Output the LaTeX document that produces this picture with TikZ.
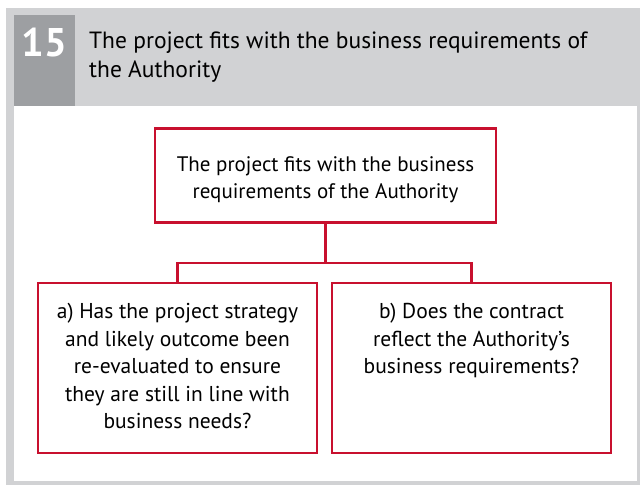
\documentclass[tikz,border=0pt]{standalone}
\usepackage{fontspec}
\setmainfont{PT Sans}
\usetikzlibrary{positioning}
\definecolor{framegray}{HTML}{D1D2D4}
\definecolor{numgray}{HTML}{9D9FA2}
\definecolor{boxred}{HTML}{C8102E}
\begin{document}
\begin{tikzpicture}[x=1pt,y=-1pt,
  topbox/.style = {draw=boxred, line width=2.4pt, align=center, minimum width=341pt, minimum height=94pt, font=\fontsize{21}{27}\selectfont},
  qbox/.style = {draw=boxred, line width=2.4pt, anchor=north, minimum width=279pt, minimum height=170pt, font=\fontsize{21.5}{27.5}\selectfont},
  link/.style = {draw=boxred, line width=2.4pt}]
\useasboundingbox (0,0) rectangle (640,485);
% frame and header
\fill[framegray] (6,8) rectangle (640,485);
\fill[white] (14,106) rectangle (637,481);
\fill[numgray] (14,15) rectangle (75,106);
\node[text=white, font=\fontsize{40}{40}\bfseries\selectfont] (num) at (44.5,43) {15};
\node[anchor=base west, align=left, inner sep=0pt, font=\fontsize{23.5}{28.5}\selectfont] (title) at (89,77) {The project fits with the business requirements of\\the Authority};
% boxes
\node[topbox] (top) at (325.5,175.5) {\parbox{330pt}{\centering\vspace*{9pt}The project fits with the business\\requirements of the Authority}};
\node[qbox] (a) at (177.5,282) {\parbox[t][130pt][t]{265pt}{\centering a) Has the project strategy\\and likely outcome been\\re-evaluated to ensure\\they are still in line with\\business needs?}};
\node[qbox] (b) at (471.5,282) {\parbox[t][130pt][t]{265pt}{\centering b) Does the contract\\reflect the Authority’s\\business requirements?}};
% connectors
\coordinate (mid) at (325.5,263);
\draw[link] (top.south) -- (mid);
\draw[link] (a.north) |- (mid) -| (b.north);
\end{tikzpicture}
\end{document}
